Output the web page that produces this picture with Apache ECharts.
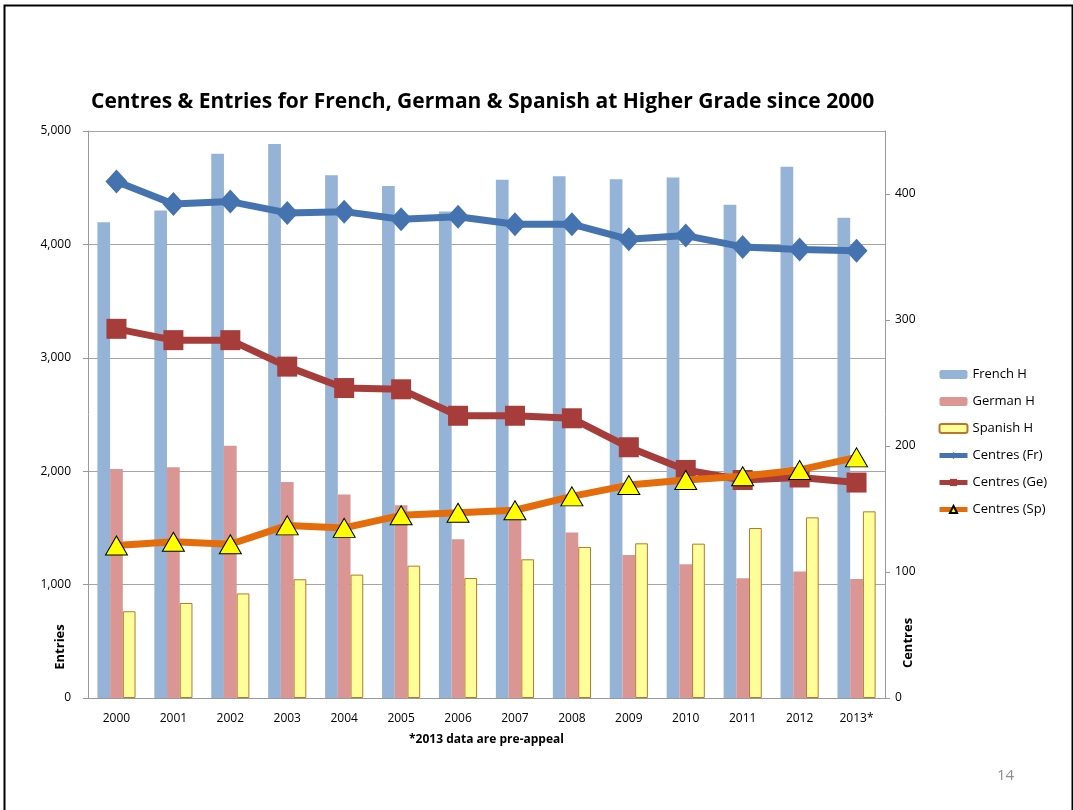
<!DOCTYPE html>
<html>
<head>
<meta charset="utf-8">
<script src="https://cdn.jsdelivr.net/npm/echarts@6/dist/echarts.min.js"></script>
<style>
html,body{margin:0;padding:0;background:#fff;}
#c{width:1073px;height:810px;}
</style>
</head>
<body>
<div id="c"></div>
<script>
const years = ['2000','2001','2002','2003','2004','2005','2006','2007','2008','2009','2010','2011','2012','2013*'];
const frenchEntries  = [4195, 4300, 4800, 4885, 4610, 4515, 4290, 4570, 4600, 4575, 4590, 4350, 4685, 4235];
const germanEntries  = [2020, 2035, 2225, 1905, 1795, 1700, 1400, 1610, 1460, 1260, 1180, 1055, 1115, 1050];
const spanishEntries = [ 765,  838,  922, 1047, 1088, 1167, 1058, 1223, 1332, 1364, 1361, 1499, 1593, 1646];
const centresFr = [410, 392, 394, 385, 386, 380, 382, 376, 376, 364, 367, 358, 356, 355];
const centresGe = [293, 284, 284, 263, 246, 245, 224, 224, 222, 199, 181, 173, 175, 171];
const centresSp = [121, 124, 122, 137, 135, 145, 147, 149, 160, 169, 173, 176, 181, 191];
const entriesTicks = [0, 1000, 2000, 3000, 4000, 5000];
const centresTicks = [0, 100, 200, 300, 400];

const FONT = "'Open Sans', 'Noto Sans', sans-serif";
const chart = echarts.init(document.getElementById('c'), null, {renderer: 'canvas'});
const option = {
  backgroundColor: '#fff',
  animation: false,
  textStyle: {fontFamily: FONT, color: '#000'},
  title: {
    text: 'Centres & Entries for French, German & Spanish at Higher Grade since 2000',
    left: 86, top: 87,
    textStyle: {fontFamily: FONT, fontSize: 21, fontWeight: 'bold', color: '#000'}
  },
  graphic: [
    {type: 'rect', left: 2, top: 3, shape: {width: 1068, height: 830}, style: {fill: 'none', stroke: '#000', lineWidth: 2}, z: 100},
    {type: 'text', left: 997, top: 768, style: {text: '14', fontSize: 15, fill: '#8c8c8c', fontFamily: FONT}},
    {type: 'text', x: 60, y: 647, rotation: Math.PI / 2,
      style: {text: 'Entries', fontSize: 13, fontWeight: 'bold', fill: '#000', fontFamily: FONT, align: 'center', verticalAlign: 'middle'}},
    {type: 'text', x: 908, y: 643, rotation: Math.PI / 2,
      style: {text: 'Centres', fontSize: 13, fontWeight: 'bold', fill: '#000', fontFamily: FONT, align: 'center', verticalAlign: 'middle'}}
  ],
  legend: {
    orient: 'vertical', left: 937, top: 368, padding: 0,
    itemWidth: 28, itemHeight: 9, itemGap: 14,
    lineStyle: {width: 5},
    textStyle: {fontFamily: FONT, fontSize: 13, color: '#000'},
    data: ['French H', 'German H', 'Spanish H', 'Centres (Fr)', 'Centres (Ge)', 'Centres (Sp)']
  },
  grid: {left: 88, right: 188, top: 131, bottom: 112, containLabel: false},
  xAxis: {
    type: 'category', data: years,
    name: '*2013 data are pre-appeal', nameLocation: 'middle', nameGap: 36,
    nameTextStyle: {fontFamily: FONT, fontSize: 12, fontWeight: 'bold', color: '#000'},
    axisLine: {lineStyle: {color: '#9a9a9a', width: 1}},
    axisTick: {show: false},
    axisLabel: {fontFamily: FONT, fontSize: 12, color: '#000', margin: 15}
  },
  yAxis: [
    {
      type: 'value', min: 0, max: 5000, interval: 1000,
      axisLine: {show: true, lineStyle: {color: '#9a9a9a'}},
      axisTick: {show: true, length: 5, lineStyle: {color: '#9a9a9a'}},
      splitLine: {show: true, lineStyle: {color: '#a6a6a6', width: 1}},
      axisLabel: {fontFamily: FONT, fontSize: 12, color: '#000', margin: 17,
        formatter: v => entriesTicks.includes(v) ? v.toLocaleString('en-US') : ''}
    },
    {
      type: 'value', min: 0, max: 450, interval: 100, position: 'right',
      axisLine: {show: true, lineStyle: {color: '#9a9a9a'}},
      axisTick: {show: true, length: 5, lineStyle: {color: '#9a9a9a'}, customValues: centresTicks},
      splitLine: {show: false},
      axisLabel: {fontFamily: FONT, fontSize: 12, color: '#000', margin: 10, customValues: centresTicks,
        formatter: v => centresTicks.includes(v) ? String(v) : ''}
    }
  ],
  series: [
    {name: 'French H', type: 'bar', data: frenchEntries, yAxisIndex: 0, barGap: '0%', barCategoryGap: '33%',
      itemStyle: {color: '#95B3D7'}, z: 2},
    {name: 'German H', type: 'bar', data: germanEntries, yAxisIndex: 0,
      itemStyle: {color: '#D99694'}, z: 2},
    {name: 'Spanish H', type: 'bar', data: spanishEntries, yAxisIndex: 0,
      itemStyle: {color: '#FFFF99', borderColor: '#B9772E', borderWidth: 1}, z: 2},
    {name: 'Centres (Fr)', type: 'line', data: centresFr, yAxisIndex: 1,
      symbol: 'diamond', symbolSize: [22, 24], showAllSymbol: true,
      lineStyle: {color: '#4473B0', width: 7}, itemStyle: {color: '#4473B0'}, z: 5},
    {name: 'Centres (Ge)', type: 'line', data: centresGe, yAxisIndex: 1,
      symbol: 'rect', symbolSize: 20, showAllSymbol: true,
      lineStyle: {color: '#A63D3A', width: 7}, itemStyle: {color: '#A63D3A'}, z: 6},
    {name: 'Centres (Sp)', type: 'line', data: centresSp, yAxisIndex: 1,
      symbol: 'triangle', symbolSize: [22, 19], showAllSymbol: true,
      lineStyle: {color: '#E46C0A', width: 7},
      itemStyle: {color: '#FFFF00', borderColor: '#000', borderWidth: 1}, z: 7}
  ]
};
chart.setOption(option);
</script>
</body>
</html>
